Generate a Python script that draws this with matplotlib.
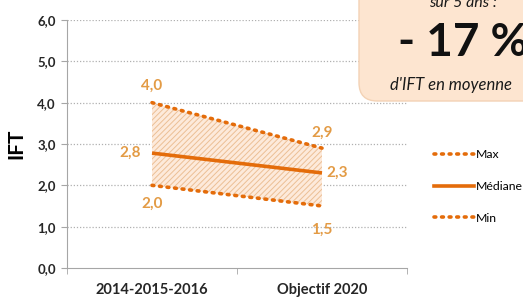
import matplotlib
matplotlib.use("Agg")
import matplotlib.pyplot as plt
from matplotlib.patches import FancyBboxPatch
from matplotlib.lines import Line2D

plt.rcParams['font.family'] = ['Lato', 'DejaVu Sans']
plt.rcParams['hatch.linewidth'] = 0.7
plt.rcParams['hatch.color'] = '#ecbf95'

categories = ["2014-2015-2016", "Objectif 2020"]
max_vals = [4.0, 2.9]
med_vals = [2.78, 2.3]
min_vals = [2.0, 1.5]
max_labels = ["4,0", "2,9"]
med_labels = ["2,8", "2,3"]
min_labels = ["2,0", "1,5"]
yticks = [0, 1, 2, 3, 4, 5, 6]
ytick_labels = ["0,0", "1,0", "2,0", "3,0", "4,0", "5,0", "6,0"]

orange = '#e46c0a'
label_col = '#e39b45'

fig = plt.figure(figsize=(5.23, 2.97), dpi=100)
ax = fig.add_axes([67/523, 29/297, 340/523, 248/297])
x = [0, 1]
ax.set_xlim(-0.5, 1.5)
ax.set_ylim(0, 6)

ax.fill_between(x, min_vals, max_vals, facecolor='#fdeadb', hatch='//////', edgecolor='#ecbf95', linewidth=0, zorder=1)
ax.plot(x, max_vals, color=orange, lw=2.6, linestyle=(0, (0.5, 1.6)), dash_capstyle='round', zorder=3)
ax.plot(x, min_vals, color=orange, lw=2.6, linestyle=(0, (0.5, 1.6)), dash_capstyle='round', zorder=3)
ax.plot(x, med_vals, color=orange, lw=2.6, solid_capstyle='butt', zorder=3)

fs = 11
ax.annotate(max_labels[0], (x[0], max_vals[0]), xytext=(0, 7), textcoords='offset points', ha='center', va='bottom', color=label_col, fontsize=fs, fontweight='bold')
ax.annotate(max_labels[1], (x[1], max_vals[1]), xytext=(0, 6), textcoords='offset points', ha='center', va='bottom', color=label_col, fontsize=fs, fontweight='bold')
ax.annotate(med_labels[0], (x[0], med_vals[0]), xytext=(-8, 0), textcoords='offset points', ha='right', va='center', color=label_col, fontsize=fs, fontweight='bold')
ax.annotate(med_labels[1], (x[1], med_vals[1]), xytext=(3, 0), textcoords='offset points', ha='left', va='center', color=label_col, fontsize=fs, fontweight='bold')
ax.annotate(min_labels[0], (x[0], min_vals[0]), xytext=(0, -8), textcoords='offset points', ha='center', va='top', color=label_col, fontsize=fs, fontweight='bold')
ax.annotate(min_labels[1], (x[1], min_vals[1]), xytext=(0, -12), textcoords='offset points', ha='center', va='top', color=label_col, fontsize=fs, fontweight='bold')

ax.set_yticks(yticks)
ax.set_yticklabels(ytick_labels, fontsize=9.5, fontweight='bold', color='#262626')
ax.set_xticks(x)
ax.set_xticklabels(categories, fontsize=10.5, fontweight='bold', color='#262626')
ax.set_xticks([-0.5, 0.5, 1.5], minor=True)
ax.tick_params(axis='x', which='major', length=0, pad=11)
ax.tick_params(axis='x', which='minor', length=4, color='#a6a6a6', direction='out')
ax.tick_params(axis='y', length=4, color='#a6a6a6', pad=4)
for yv in yticks[1:]:
    ax.axhline(yv, color='#b0b0b0', lw=0.9, linestyle=(0, (1, 1.5)), zorder=0)
for s in ['top', 'right']:
    ax.spines[s].set_visible(False)
ax.spines['left'].set_color('#a6a6a6')
ax.spines['bottom'].set_color('#a6a6a6')
ax.set_ylabel("IFT", fontsize=15, fontweight='bold', labelpad=8)

# Legend
handles = [Line2D([], [], color=orange, lw=2.6, linestyle=(0, (0.5, 1.6)), dash_capstyle='round'),
           Line2D([], [], color=orange, lw=2.6),
           Line2D([], [], color=orange, lw=2.6, linestyle=(0, (0.5, 1.6)), dash_capstyle='round')]
fig.legend(handles, ["Max", "Médiane", "Min"], loc='upper left', bbox_to_anchor=(423/523, 1 - 138/297),
           frameon=False, fontsize=8.8, handlelength=3.3, handletextpad=0.1, labelspacing=1.7)

# Callout box
box = FancyBboxPatch((359/523, 1 - 101/297), 0.5, 0.5, boxstyle="round,pad=0,rounding_size=0.035",
                     transform=fig.transFigure, facecolor='#fde5d0', edgecolor='#f3d2b5', lw=1, zorder=5,
                     mutation_aspect=523/297)
fig.patches.append(box)
fig.text(463/523, 1 - 3/297, "sur 5 ans :", ha='center', va='center', fontsize=11.5, style='italic', color='#1a1a1a', zorder=6)
fig.text(398/523, 1 - 43/297, "- 17 %", ha='left', va='center', fontsize=33, fontweight='bold', color='#111111', zorder=6)
fig.text(390/523, 1 - 85/297, "d'IFT en moyenne", ha='left', va='center', fontsize=12, style='italic', color='#1a1a1a', zorder=6)

fig.savefig("out.png", dpi=100)
